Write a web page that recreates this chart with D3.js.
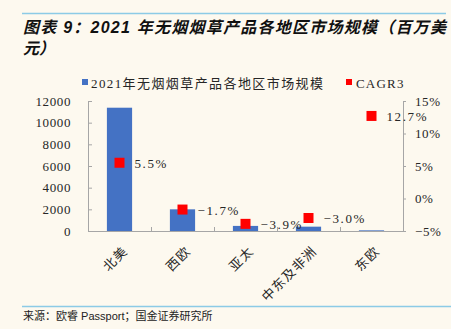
<!DOCTYPE html>
<html><head><meta charset="utf-8">
<script src="https://cdn.jsdelivr.net/npm/d3@7"></script>
<style>
html,body{margin:0;padding:0;background:#fdf9ef;}
svg{display:block;}
</style></head>
<body>
<svg id="c" width="451" height="329"></svg>
<script>
const categories = ["北美","西欧","亚太","中东及非洲","东欧"];
const marketSize = [11380, 2000, 470, 400, 60];
const cagr = [5.5, -1.7, -3.9, -3.0, 12.7];
const cagrLabels = ["5.5%","-1.7%","-3.9%","-3.0%","12.7%"];
const leftTicks = [0,2000,4000,6000,8000,10000,12000];
const rightTicks = [-5,0,5,10,15];
const seriesNames = ["2021年无烟烟草产品各地区市场规模","CAGR3"];
const titleLines = ["图表 9：2021 年无烟烟草产品各地区市场规模（百万美","元）"];
const sourceText = "来源：欧睿 Passport；国金证券研究所";

const svg = d3.select("#c");
const W = 451, H = 329;
svg.append("rect").attr("width",W).attr("height",H).attr("fill","#fdf9ef");

const serif = "'Liberation Serif','DejaVu Serif','Noto Sans CJK SC',serif";
const blue = "#4472c4", red = "#ff0000", axisCol = "#a6a6a6", txt = "#262626";

// top / bottom rules
svg.append("line").attr("x1",22).attr("x2",446).attr("y1",13.5).attr("y2",13.5).attr("stroke","#8ccbe6").attr("stroke-width",1.5);
svg.append("line").attr("x1",22).attr("x2",451).attr("y1",306.5).attr("y2",306.5).attr("stroke","#8ccbe6").attr("stroke-width",1.5);

// title
const tt = svg.append("text").attr("font-family","'Liberation Sans','Noto Sans CJK SC',sans-serif")
  .attr("font-weight","bold").attr("font-style","italic").attr("font-size",16).attr("fill","#111");
tt.append("tspan").attr("x",23).attr("y",33).attr("textLength",423).attr("lengthAdjust","spacing").text(titleLines[0]);
tt.append("tspan").attr("x",23).attr("y",54).text(titleLines[1]);

// source
svg.append("text").attr("x",23).attr("y",320).attr("font-size",11)
  .attr("font-family","'Liberation Sans','Noto Sans CJK SC',sans-serif").attr("fill","#222").text(sourceText);

// scales
const x0 = 88, x1 = 403, yTop = 101, yBot = 231;
const x = d3.scaleBand().domain(categories).range([x0,x1]).paddingInner(0.6).paddingOuter(0.3);
const yL = d3.scaleLinear().domain([0,12000]).range([yBot,yTop]);
const yR = d3.scaleLinear().domain([-5,15]).range([yBot,yTop]);
const xc = d => x(d) + x.bandwidth()/2;

// left axis
const gL = svg.append("g").attr("transform",`translate(${x0},0)`)
  .call(d3.axisLeft(yL).tickValues(leftTicks).tickSize(-4).tickPadding(17).tickFormat(d3.format("d")));
// right axis
const gR = svg.append("g").attr("transform",`translate(${x1},0)`)
  .call(d3.axisRight(yR).tickValues(rightTicks).tickSize(3).tickPadding(9).tickFormat(d => d + "%"));
[gL,gR].forEach(g=>{
  g.select(".domain").attr("stroke",axisCol);
  g.selectAll(".tick line").attr("stroke",axisCol);
  g.selectAll(".tick text").attr("font-family",serif).attr("font-size",13).attr("fill",txt).attr("letter-spacing","0.6px");
});
gR.selectAll(".tick text").text(d => (d<0?"−":"") + Math.abs(d) + "%");

// bottom axis line + category boundary ticks
svg.append("line").attr("x1",x0).attr("x2",x1).attr("y1",yBot+0.5).attr("y2",yBot+0.5).attr("stroke",axisCol);
d3.range(1,categories.length+1).forEach(i=>{
  const bx = Math.round(x0 + (x1-x0)*i/categories.length)+0.5;
  svg.append("line").attr("x1",bx).attr("x2",bx).attr("y1",yBot-4).attr("y2",yBot).attr("stroke",axisCol);
});

// bars
svg.append("g").selectAll("rect").data(categories).join("rect")
  .attr("x",d=>x(d)).attr("width",x.bandwidth())
  .attr("y",(d,i)=>yL(marketSize[i])).attr("height",(d,i)=>yBot-yL(marketSize[i]))
  .attr("fill",blue);

// category labels (rotated)
svg.append("g").selectAll("text").data(categories).join("text")
  .attr("transform",d=>`translate(${xc(d)+9},${yBot+21}) rotate(-45)`)
  .attr("text-anchor","end").attr("font-family","'Noto Sans CJK SC',sans-serif").attr("font-size",13)
  .attr("fill",txt).attr("letter-spacing","1.2px").text(d=>d);

// CAGR markers
const ms = 10;
svg.append("g").selectAll("rect").data(categories).join("rect")
  .attr("x",d=>xc(d)-ms/2).attr("y",(d,i)=>yR(cagr[i])-ms/2)
  .attr("width",ms).attr("height",ms).attr("fill",red);
svg.append("g").selectAll("text").data(categories).join("text")
  .attr("x",d=>xc(d)+ms/2+10).attr("y",(d,i)=>yR(cagr[i])+5)
  .attr("font-family",serif).attr("font-size",13).attr("fill",txt).attr("letter-spacing","1.6px")
  .text((d,i)=>cagrLabels[i].replace("-","−"));

// legend
const lg = svg.append("g");
lg.append("rect").attr("x",82).attr("y",79).attr("width",6).attr("height",6).attr("fill",blue);
lg.append("text").attr("x",91).attr("y",88).attr("font-family",serif).attr("font-size",13).attr("fill",txt)
  .attr("textLength",232).attr("lengthAdjust","spacing").text(seriesNames[0]);
lg.append("rect").attr("x",346).attr("y",79).attr("width",6).attr("height",6).attr("fill",red);
lg.append("text").attr("x",356).attr("y",88).attr("font-family",serif).attr("font-size",13).attr("fill",txt)
  .attr("letter-spacing","1.2px").text(seriesNames[1]);
</script>
</body></html>
